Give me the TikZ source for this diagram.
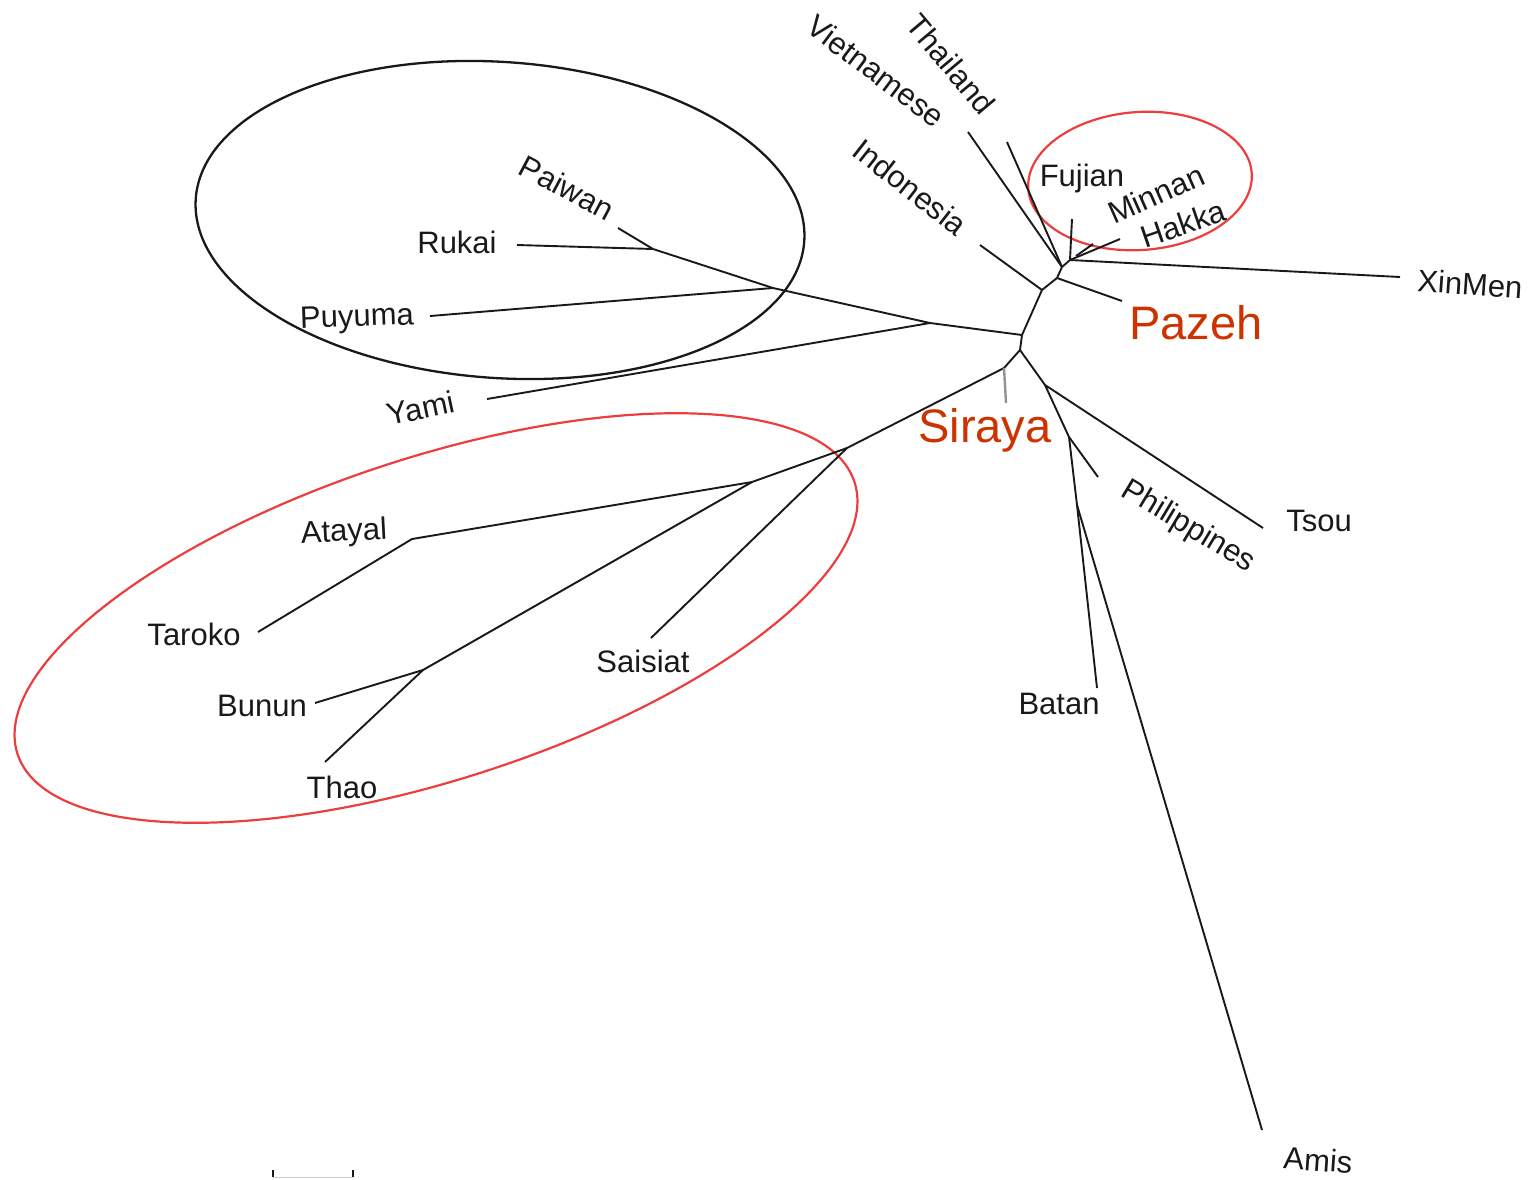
\documentclass[tikz,border=0pt]{standalone}
\usepackage{fontspec}
\setmainfont{Liberation Sans}
\definecolor{ringred}{RGB}{236,62,62}
\definecolor{labred}{RGB}{204,51,0}
\definecolor{ink}{RGB}{25,25,25}
\begin{document}
\begin{tikzpicture}[x=1pt,y=-1pt,
  branch/.style={draw=ink,line width=1.9pt},
  grayleaf/.style={draw=gray!85,line width=2.4pt},
  lab/.style={text=ink,inner sep=0pt,font=\fontsize{31}{36}\selectfont},
  redlab/.style={text=labred,inner sep=0pt,font=\fontsize{47}{54}\selectfont},
  blackring/.style={draw=ink,line width=2.3pt},
  redring/.style={draw=ringred,line width=2.2pt}]
\useasboundingbox (0,0) rectangle (1535,1179);
% internal nodes
\coordinate (A) at (1070,260);
\coordinate (M1) at (1076,256);
\coordinate (D) at (1062,267);
\coordinate (B) at (1057,278);
\coordinate (C) at (1042,290);
\coordinate (E) at (1022,335);
\coordinate (Y) at (930,323);
\coordinate (Q) at (773,288);
\coordinate (P) at (653,249);
\coordinate (F) at (1020,350);
\coordinate (R) at (1004,368);
\coordinate (S) at (847,448);
\coordinate (T) at (752,482);
\coordinate (At) at (412,539);
\coordinate (BT) at (423,670);
\coordinate (G) at (1045,385);
\coordinate (H) at (1069,437);
\coordinate (K) at (1077,505);
% leaf tips
\coordinate (tFujian) at (1072,219);
\coordinate (tHakka) at (1120,239);
\coordinate (tMinnan) at (1093,244);
\coordinate (tXinMen) at (1400,277);
\coordinate (tViet) at (968,132);
\coordinate (tThai) at (1007,142);
\coordinate (tPazeh) at (1122,301);
\coordinate (tIndo) at (980,245);
\coordinate (tYami) at (487,399);
\coordinate (tPuyuma) at (430,316);
\coordinate (tRukai) at (517,245);
\coordinate (tPaiwan) at (618,228);
\coordinate (tSiraya) at (1006,403);
\coordinate (tSaisiat) at (651,638);
\coordinate (tTaroko) at (258,632);
\coordinate (tBunun) at (315,703);
\coordinate (tThao) at (325,762);
\coordinate (tTsou) at (1263,528);
\coordinate (tPhil) at (1098,477);
\coordinate (tBatan) at (1097,688);
\coordinate (tAmis) at (1262,1130);
% rings
\draw[blackring, rotate around={-4:(500,220)}] (500,220) ellipse [x radius=305, y radius=158];
\draw[redring, rotate around={18:(436,618)}] (436,618) ellipse [x radius=440, y radius=161];
\draw[redring, rotate around={4:(1140,181)}] (1140,181) ellipse [x radius=112, y radius=69];
% branches
\draw[branch] (tFujian) -- (A);
\draw[branch] (A) -- (tHakka);
\draw[branch] (M1) -- (tMinnan);
\draw[branch] (A) -- (tXinMen);
\draw[branch] (A) -- (D) -- (B) -- (C) -- (E) -- (F);
\draw[branch] (tViet) -- (D);
\draw[branch] (tThai) -- (D);
\draw[branch] (B) -- (tPazeh);
\draw[branch] (C) -- (tIndo);
\draw[branch] (E) -- (Y) -- (Q) -- (P) -- (tPaiwan);
\draw[branch] (Y) -- (tYami);
\draw[branch] (Q) -- (tPuyuma);
\draw[branch] (P) -- (tRukai);
\draw[branch] (F) -- (R) -- (S) -- (T) -- (At) -- (tTaroko);
\draw[grayleaf] (R) -- (tSiraya);
\draw[branch] (S) -- (tSaisiat);
\draw[branch] (T) -- (BT) -- (tBunun);
\draw[branch] (BT) -- (tThao);
\draw[branch] (F) -- (G) -- (H) -- (K) -- (tBatan);
\draw[branch] (G) -- (tTsou);
\draw[branch] (H) -- (tPhil);
\draw[branch] (K) -- (tAmis);
% scale bar
\coordinate (sbL) at (273,1177);
\coordinate (sbR) at (353,1177);
\draw[draw=gray!40,line width=1pt] (sbL) -- (sbR);
\draw[branch] (sbL) -- ++(0,-7);
\draw[branch] (sbR) -- ++(0,-7);
% labels
\node[lab,rotate=-28] (lPaiwan) at (567,188) {Paiwan};
\node[lab] (lRukai) at (457,242) {Rukai};
\node[lab,rotate=2] (lPuyuma) at (357,319) {Puyuma};
\node[lab,rotate=12] (lYami) at (421,408) {Yami};
\node[lab,rotate=3] (lAtayal) at (344,533) {Atayal};
\node[lab] (lTaroko) at (194,634) {Taroko};
\node[lab] (lBunun) at (262,706) {Bunun};
\node[lab] (lThao) at (342,787) {Thao};
\node[lab] (lSaisiat) at (643,661) {Saisiat};
\node[lab] (lBatan) at (1059,704) {Batan};
\node[lab,rotate=-4] (lAmis) at (1318,1160) {Amis};
\node[lab] (lTsou) at (1319,521) {Tsou};
\node[lab,rotate=-31] (lPhil) at (1188,527) {Philippines};
\node[lab,rotate=-4] (lXinMen) at (1470,284) {XinMen};
\node[lab] (lFujian) at (1082,178) {Fujian};
\node[lab,rotate=24] (lMinnan) at (1156,194) {Minnan};
\node[lab,rotate=19] (lHakka) at (1183,224) {Hakka};
\node[lab,rotate=-38] (lIndo) at (910,187) {Indonesia};
\node[lab,rotate=-37] (lViet) at (876,71) {Vietnamese};
\node[lab,rotate=-50] (lThai) at (951,64) {Thailand};
\node[redlab] (lPazeh) at (1196,323) {Pazeh};
\node[redlab] (lSiraya) at (985,430) {Siraya};
\end{tikzpicture}
\end{document}
